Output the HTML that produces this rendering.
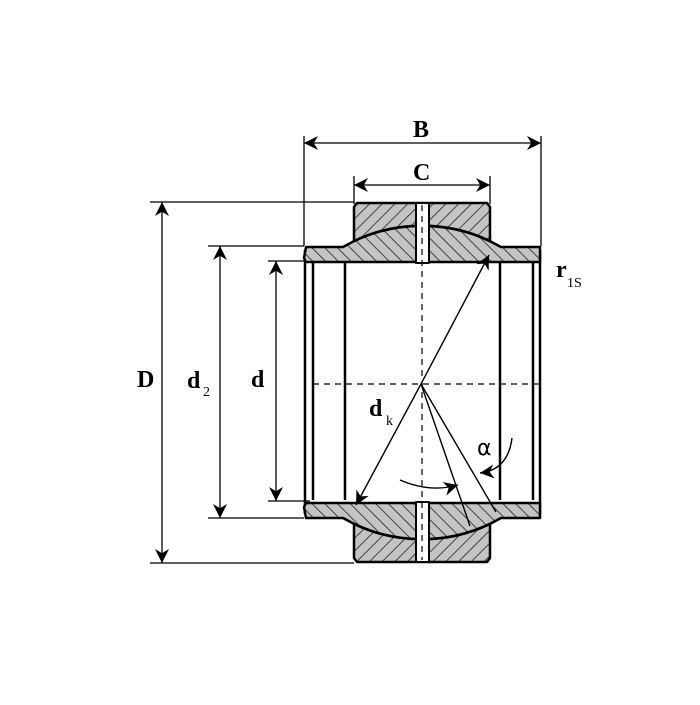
<!DOCTYPE html>
<html><head><style>html,body{margin:0;padding:0;background:#fff}</style></head>
<body>
<svg width="700" height="700" viewBox="0 0 700 700" xmlns="http://www.w3.org/2000/svg">
<defs>
<pattern id="h1" patternUnits="userSpaceOnUse" width="9" height="9" patternTransform="rotate(45)">
<rect width="9" height="9" fill="#c4c4c4"/><line x1="0" y1="0" x2="0" y2="9" stroke="#222" stroke-width="1.6"/></pattern>
<pattern id="h2" patternUnits="userSpaceOnUse" width="9" height="9" patternTransform="rotate(-45)">
<rect width="9" height="9" fill="#c4c4c4"/><line x1="0" y1="0" x2="0" y2="9" stroke="#222" stroke-width="1.6"/></pattern>
<marker id="ar" viewBox="0 0 10 10" refX="10" refY="5" markerWidth="14" markerHeight="14" markerUnits="userSpaceOnUse" orient="auto-start-reverse">
<path d="M0,0 L10,5 L0,10 L3,5 Z" fill="#000"/></marker>
</defs>
<g stroke="#000" fill="none" stroke-width="1.3">
<!-- extension lines -->
<line x1="304" y1="136" x2="304" y2="246"/>
<line x1="541" y1="136" x2="541" y2="246"/>
<line x1="354" y1="176" x2="354" y2="204"/>
<line x1="490" y1="176" x2="490" y2="204"/>
<line x1="150" y1="202" x2="354" y2="202"/>
<line x1="150" y1="563" x2="354" y2="563"/>
<line x1="208" y1="246" x2="304" y2="246"/>
<line x1="208" y1="518" x2="304" y2="518"/>
<line x1="268" y1="261" x2="310" y2="261"/>
<line x1="268" y1="501" x2="310" y2="501"/>
<!-- dims -->
<line x1="304" y1="143" x2="541" y2="143" marker-start="url(#ar)" marker-end="url(#ar)"/>
<line x1="354" y1="185" x2="490" y2="185" marker-start="url(#ar)" marker-end="url(#ar)"/>
<line x1="162" y1="202" x2="162" y2="563" marker-start="url(#ar)" marker-end="url(#ar)"/>
<line x1="220" y1="246" x2="220" y2="518" marker-start="url(#ar)" marker-end="url(#ar)"/>
<line x1="276" y1="261" x2="276" y2="501" marker-start="url(#ar)" marker-end="url(#ar)"/>
</g>
<!-- bore lines -->
<g stroke="#000" stroke-width="2.5">
<line x1="305" y1="250" x2="305" y2="514"/>
<line x1="313" y1="262" x2="313" y2="500"/>
<line x1="345" y1="262" x2="345" y2="500"/>
<line x1="500" y1="262" x2="500" y2="500"/>
<line x1="533" y1="262" x2="533" y2="500"/>
<line x1="540" y1="250" x2="540" y2="514"/>
</g>
<g id="top" stroke="#000" stroke-width="2.5" stroke-linejoin="round">
<path d="M306,247 L343,247 A158,158 0 0 1 501,247 L540,247 L540,262 L306,262 L304,258 Z" fill="url(#h2)"/>
<path d="M357,203 L487,203 L490,207 L490,241 A158,158 0 0 0 354,241 L354,207 Z" fill="url(#h1)"/>
<rect x="416" y="203" width="13" height="60" fill="#fff" stroke="#000" stroke-width="2"/>
</g>
<g transform="translate(0,765) scale(1,-1)" stroke="#000" stroke-width="2.5" stroke-linejoin="round">
<path d="M306,247 L343,247 A158,158 0 0 1 501,247 L540,247 L540,262 L306,262 L304,258 Z" fill="url(#h1)"/>
<path d="M357,203 L487,203 L490,207 L490,241 A158,158 0 0 0 354,241 L354,207 Z" fill="url(#h2)"/>
<rect x="416" y="203" width="13" height="60" fill="#fff" stroke="#000" stroke-width="2"/>
</g>
<!-- center lines -->
<g stroke="#000" stroke-width="1.2" stroke-dasharray="6,5">
<line x1="313" y1="384" x2="540" y2="384"/>
<line x1="422" y1="205" x2="422" y2="560"/>
</g>
<!-- dk & alpha lines -->
<g stroke="#000" stroke-width="1.4" fill="none">
<line x1="421" y1="384" x2="489" y2="255" marker-end="url(#ar)"/>
<line x1="421" y1="384" x2="356" y2="505" marker-end="url(#ar)"/>
<line x1="421" y1="384" x2="470" y2="526"/>
<line x1="421" y1="384" x2="496" y2="512"/>
<path d="M400,480 Q430,493 458,485" marker-end="url(#ar)"/>
<path d="M512,438 Q508,470 480,473" marker-end="url(#ar)"/>
</g>
<g font-family="Liberation Serif, serif" font-weight="bold" fill="#000">
<text x="413" y="137" font-size="24">B</text>
<text x="413" y="180" font-size="24">C</text>
<text x="137" y="387" font-size="24">D</text>
<text x="187" y="388" font-size="24">d</text><text x="203" y="396" font-size="14" font-weight="normal">2</text>
<text x="251" y="387" font-size="24">d</text>
<text x="369" y="416" font-size="24">d</text><text x="386" y="425" font-size="14" font-weight="normal">k</text>
<text x="556" y="277" font-size="24">r</text><text x="567" y="287" font-size="14" font-weight="normal">1S</text>
</g>
<text x="477" y="455" font-family="DejaVu Sans, sans-serif" font-size="22" fill="#000">α</text>
</svg>
</body></html>
